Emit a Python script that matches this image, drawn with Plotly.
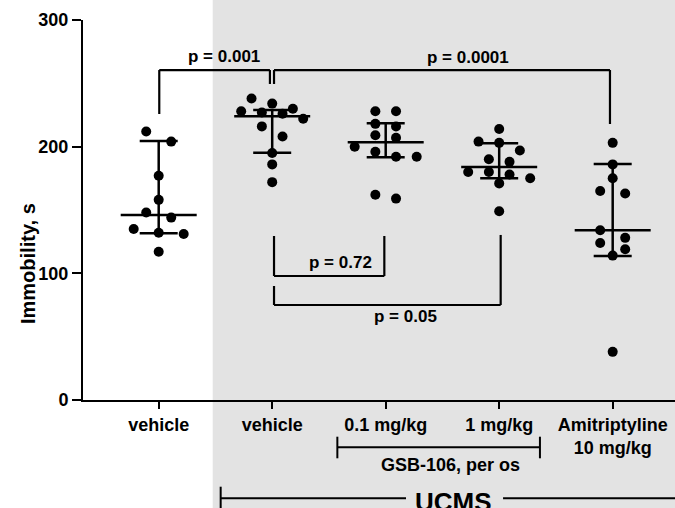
import numpy as np
import plotly.graph_objects as go

# ---------------- data ----------------
categories = ["vehicle", "vehicle", "0.1 mg/kg", "1 mg/kg", "Amitriptyline<br>10 mg/kg"]
control_vehicle = [212, 204, 177, 158, 148, 144, 135, 132, 131, 117]
ucms_vehicle = [238, 234, 230, 228, 227, 226, 222, 216, 208, 195, 186, 172]
gsb_01 = [228, 228, 218, 216, 209, 207, 200, 196, 192, 192, 162, 159]
gsb_1 = [214, 204, 203, 197, 190, 188, 180, 180, 178, 175, 171, 149]
amitriptyline = [203, 186, 175, 165, 163, 134, 128, 124, 119, 114, 38]
bar_low = [131.6, 195.2, 191.6, 175.0, 113.7]
bar_high = [204.5, 229.0, 218.4, 202.6, 186.3]
y_ticks = [0, 100, 200, 300]
p_labels = ["p = 0.001", "p = 0.0001", "p = 0.72", "p = 0.05"]

groups = [control_vehicle, ucms_vehicle, gsb_01, gsb_1, amitriptyline]

# ---------------- geometry helpers ----------------
W, H = 675, 508
ML, MR, MT, MB = 83, 0, 20, 108
X_RANGE = [-0.667, 4.549]
Y_RANGE = [0, 300]
PX_PER_CAT = (W - ML - MR) / (X_RANGE[1] - X_RANGE[0])
PLOT_H = H - MT - MB


def py_paper(px_y):
    return (H - MB - px_y) / PLOT_H


def swarm(vals, binh=9.0, maxw=62.0, maxsp=25.0):
    n = len(vals)
    order = sorted(range(n), key=lambda i: -vals[i])
    rows, cur = [], []
    for i in order:
        if cur and vals[cur[0]] - vals[i] >= binh:
            rows.append(cur)
            cur = []
        cur.append(i)
    rows.append(cur)
    maxrow = max(len(r) for r in rows)
    sp = min(maxsp, maxw / (maxrow - 1)) if maxrow > 1 else 0
    offs = [0.0] * n
    for r in rows:
        k = len(r)
        for j, i in enumerate(r):
            offs[i] = (j - (k - 1) / 2) * sp / PX_PER_CAT
    return offs


FONT = "Liberation Sans, Arial, sans-serif"
fig = go.Figure()

# error bars + medians
ex, ey, mx, my = [], [], [], []
cap = 19 / PX_PER_CAT
half = 38 / PX_PER_CAT
for i, vals in enumerate(groups):
    lo, hi = bar_low[i], bar_high[i]
    med = float(np.median(vals))
    ex += [i, i, None, i - cap, i + cap, None, i - cap, i + cap, None]
    ey += [lo, hi, None, hi, hi, None, lo, lo, None]
    mx += [i - half, i + half, None]
    my += [med, med, None]

fig.add_trace(go.Scatter(x=ex, y=ey, mode="lines", line=dict(color="black", width=2.5),
                         hoverinfo="skip", showlegend=False, cliponaxis=False))
fig.add_trace(go.Scatter(x=mx, y=my, mode="lines", line=dict(color="black", width=2.5),
                         hoverinfo="skip", showlegend=False, cliponaxis=False))

for i, vals in enumerate(groups):
    offs = swarm(vals)
    fig.add_trace(go.Scatter(
        x=[i + o for o in offs], y=vals, mode="markers",
        marker=dict(color="black", size=10, line=dict(width=0)),
        showlegend=False, cliponaxis=False,
    ))

shapes = []
annotations = []

# grey UCMS background
shapes.append(dict(type="rect", xref="x", yref="paper", x0=0.476, x1=X_RANGE[1] + 0.2,
                   y0=py_paper(H + 5), y1=py_paper(-5), fillcolor="#e3e3e3",
                   line=dict(width=0), layer="below"))

# significance brackets: (x0, x1, y_bar, y_left_end, y_right_end, label, label_x, label_y)
brackets = [
    (0.005, 0.98, 260.5, 225.8, 249.5, p_labels[0], 0.575, 270.8),
    (1.016, 3.976, 260.5, 249.5, 217.9, p_labels[1], 2.725, 270.3),
    (1.016, 1.988, 97.9, 129.5, 129.5, p_labels[2], 1.604, 108.4),
    (1.016, 3.013, 75.0, 90.0, 130.3, p_labels[3], 2.174, 65.8),
]
bl = dict(color="black", width=2.2)
for x0, x1, yb, yl, yr, lab, lx, ly in brackets:
    shapes.append(dict(type="line", xref="x", yref="y", x0=x0, x1=x1, y0=yb, y1=yb, line=bl))
    shapes.append(dict(type="line", xref="x", yref="y", x0=x0, x1=x0, y0=yb, y1=yl, line=bl))
    shapes.append(dict(type="line", xref="x", yref="y", x0=x1, x1=x1, y0=yb, y1=yr, line=bl))
    annotations.append(dict(x=lx, y=ly, xref="x", yref="y", text=lab, showarrow=False,
                            font=dict(family=FONT, size=17, color="black", weight="bold"),
                            xanchor="center", yanchor="middle"))

# GSB-106 bracket under axis
gx0, gx1 = 1.574, 3.359
shapes.append(dict(type="line", xref="x", yref="paper", x0=gx0, x1=gx1,
                   y0=py_paper(447.3), y1=py_paper(447.3), line=dict(color="black", width=2)))
for gx in (gx0, gx1):
    shapes.append(dict(type="line", xref="x", yref="paper", x0=gx, x1=gx,
                       y0=py_paper(436.7), y1=py_paper(458.3), line=dict(color="black", width=2)))
annotations.append(dict(x=2.567, y=py_paper(465), xref="x", yref="paper", text="GSB-106, per os",
                        showarrow=False, font=dict(family=FONT, size=18, color="black", weight="bold"),
                        xanchor="center", yanchor="middle"))

# UCMS line
ux0 = 0.546
shapes.append(dict(type="line", xref="x", yref="paper", x0=ux0, x1=2.179,
                   y0=py_paper(498.3), y1=py_paper(498.3), line=dict(color="black", width=2)))
shapes.append(dict(type="line", xref="x", yref="paper", x0=3.034, x1=X_RANGE[1] + 0.1,
                   y0=py_paper(498.3), y1=py_paper(498.3), line=dict(color="black", width=2)))
shapes.append(dict(type="line", xref="x", yref="paper", x0=ux0, x1=ux0,
                   y0=py_paper(486.7), y1=py_paper(512), line=dict(color="black", width=2)))
annotations.append(dict(x=2.600, y=py_paper(502), xref="x", yref="paper", text="UCMS",
                        showarrow=False, font=dict(family=FONT, size=26, color="black", weight="bold"),
                        xanchor="center", yanchor="middle"))

# y-axis title
annotations.append(dict(x=(28 - ML) / (W - ML - MR), y=py_paper(264), xref="paper", yref="paper",
                        text="Immobility, s", textangle=-90, showarrow=False,
                        font=dict(family=FONT, size=20, color="black", weight="bold"),
                        xanchor="center", yanchor="middle"))

fig.update_layout(
    width=W, height=H,
    margin=dict(l=ML, r=MR, t=MT, b=MB, pad=0, autoexpand=False),
    paper_bgcolor="white", plot_bgcolor="rgba(0,0,0,0)",
    shapes=shapes, annotations=annotations,
    showlegend=False,
    font=dict(family=FONT, color="black"),
)
fig.update_xaxes(
    range=X_RANGE, tickmode="array", tickvals=list(range(len(categories))), ticktext=categories,
    showgrid=False, zeroline=False, showline=True, linecolor="black", linewidth=2,
    ticks="outside", ticklen=7, tickwidth=2, tickcolor="black", automargin=False,
    tickfont=dict(family=FONT, size=18, color="black", weight="bold"),
)
fig.update_yaxes(
    range=Y_RANGE, tickmode="array", tickvals=y_ticks,
    showgrid=False, zeroline=False, showline=True, linecolor="black", linewidth=2,
    ticks="outside", ticklen=9, tickwidth=2, tickcolor="black", automargin=False,
    tickfont=dict(family=FONT, size=18, color="black", weight="bold"),
)

fig.write_html("out.html", config={"displayModeBar": False},
               post_script="document.body.style.margin='0';")
